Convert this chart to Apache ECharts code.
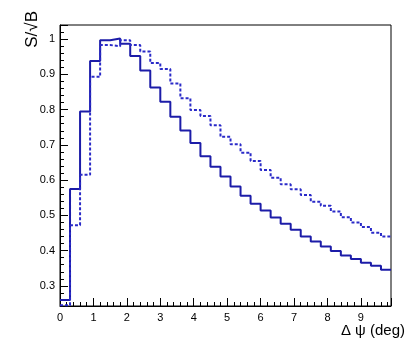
<!DOCTYPE html>
<html>
<head>
<meta charset="utf-8">
<script src="https://cdn.jsdelivr.net/npm/echarts@6/dist/echarts.min.js"></script>
<style>
  html, body { margin: 0; padding: 0; background: #fff; }
  #chart { width: 415px; height: 352px; }
</style>
</head>
<body>
<div id="chart"></div>
<script>
// bin layout: 33 bins of width 0.3 from 0 to 9.9
var binWidth = 0.3;
var binStart = 0;

// solid histogram
var solidValues = [
  0.26, 0.575, 0.795, 0.938, 0.997, 1.002, 0.987, 0.952, 0.911, 0.863,
  0.822, 0.780, 0.741, 0.705, 0.668, 0.638, 0.610, 0.582, 0.556, 0.533,
  0.514, 0.494, 0.476, 0.459, 0.440, 0.426, 0.412, 0.399, 0.386, 0.376,
  0.366, 0.357, 0.346
];

// dotted histogram
var dottedValues = [
  0.245, 0.472, 0.615, 0.893, 0.983, 0.980, 0.997, 0.983, 0.965, 0.932,
  0.915, 0.874, 0.832, 0.799, 0.782, 0.756, 0.723, 0.702, 0.678, 0.654,
  0.629, 0.607, 0.588, 0.574, 0.558, 0.539, 0.527, 0.511, 0.495, 0.480,
  0.467, 0.451, 0.440
];

var xTitle = 'Δ ψ (deg)';
var yTitle = 'S/√B';

// turn bin contents into step points (left edge of each bin + closing edge)
function toSteps(vals) {
  var pts = [];
  for (var i = 0; i < vals.length; i++) {
    pts.push([+(binStart + i * binWidth).toFixed(2), vals[i]]);
  }
  pts.push([+(binStart + vals.length * binWidth).toFixed(2), vals[vals.length - 1]]);
  return pts;
}

var chart = echarts.init(document.getElementById('chart'));
var labelFont = { color: '#000', fontSize: 11, fontFamily: '"Liberation Sans", Arial, sans-serif' };

chart.setOption({
  animation: false,
  grid: {
    left: 60, right: 24, top: 25, bottom: 46,
    show: true, borderColor: '#000', borderWidth: 1, backgroundColor: 'transparent'
  },
  xAxis: {
    type: 'value',
    min: 0, max: 9.9, interval: 1,
    axisLine: { show: true, onZero: false, lineStyle: { color: '#000', width: 1 } },
    axisTick: { show: true, inside: true, length: 8, lineStyle: { color: '#000' } },
    minorTick: { show: true, splitNumber: 5, length: 4, lineStyle: { color: '#000' } },
    splitLine: { show: false },
    axisLabel: Object.assign({ margin: 6, showMaxLabel: false }, labelFont)
  },
  yAxis: {
    type: 'value',
    min: 0.243, max: 1.04, splitNumber: 8,
    axisLine: { show: true, lineStyle: { color: '#000', width: 1 } },
    axisTick: { show: true, inside: true, length: 8, lineStyle: { color: '#000' } },
    minorTick: { show: true, splitNumber: 5, length: 4, lineStyle: { color: '#000' } },
    splitLine: { show: false },
    axisLabel: Object.assign({ margin: 5, showMinLabel: false, showMaxLabel: false }, labelFont)
  },
  graphic: [
    {
      type: 'text', x: 405, y: 331,
      style: { text: xTitle, fill: '#000', font: '15px "Liberation Sans", Arial, sans-serif', align: 'right', verticalAlign: 'middle' }
    },
    {
      type: 'text', x: 32, y: 11, rotation: Math.PI / 2,
      style: { text: yTitle, fill: '#000', font: '17px "Liberation Sans", Arial, sans-serif', align: 'right', verticalAlign: 'middle' }
    }
  ],
  series: [
    {
      name: 'solid', type: 'line', step: 'end', symbol: 'none',
      data: toSteps(solidValues),
      lineStyle: { color: '#1c1ca8', width: 2 }
    },
    {
      name: 'dotted', type: 'line', step: 'end', symbol: 'none',
      data: toSteps(dottedValues),
      lineStyle: { color: '#2a2ac8', width: 2, type: [3, 2] }
    }
  ]
});
</script>
</body>
</html>
